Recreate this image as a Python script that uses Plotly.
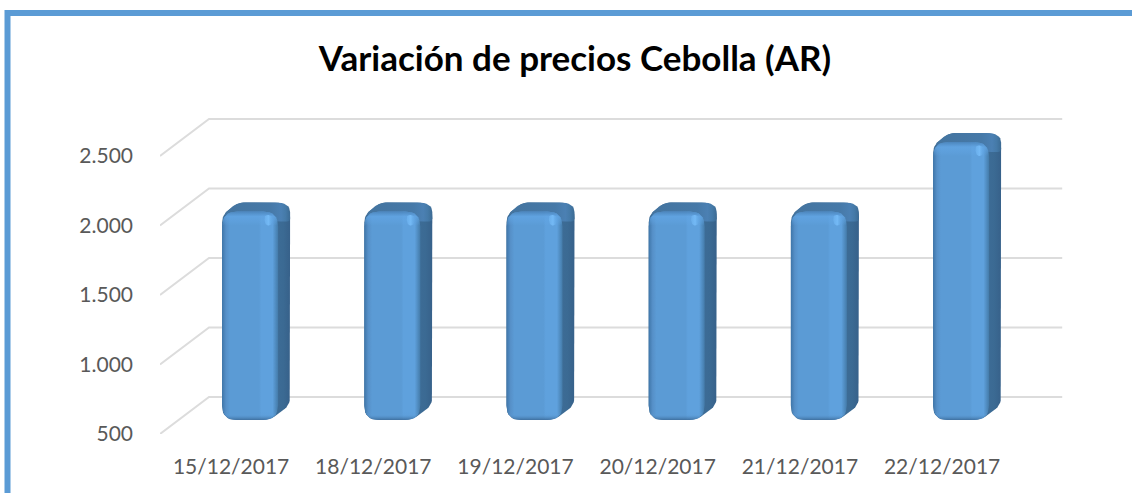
import plotly.graph_objects as go

categories = ["15/12/2017", "18/12/2017", "19/12/2017", "20/12/2017", "21/12/2017", "22/12/2017"]
values = [2000, 2000, 2000, 2000, 2000, 2500]
y_ticks = [500, 1000, 1500, 2000, 2500]
title = "Variación de precios Cebolla (AR)"

W, H = 1132, 493
X0_PX, Y0_PX = 160, 434      # front-left corner of the floor
CAT_PX = 142.2               # pixels per category
UNIT_PX = 69.5 / 500         # pixels per value unit
DEPTH_X = 49 / CAT_PX        # depth of the 3D box in x data units
DEPTH_Y = 37 / UNIT_PX       # depth of the 3D box in value units


def dx(p):
    return p / CAT_PX


def dy(p):
    return p / UNIT_PX


def rounded(points, radius, steps=8):
    """Round the corners of a polygon given in pixel-like offsets."""
    out = []
    n = len(points)
    for i in range(n):
        p, c, q = points[i - 1], points[i], points[(i + 1) % n]
        r = radius[i] if isinstance(radius, (list, tuple)) else radius
        def toward(a, b):
            d = ((a[0] - b[0]) ** 2 + (a[1] - b[1]) ** 2) ** 0.5
            t = min(r, d / 2) / d if d else 0
            return (b[0] + (a[0] - b[0]) * t, b[1] + (a[1] - b[1]) * t)
        a, b = toward(p, c), toward(q, c)
        for s in range(steps + 1):
            t = s / steps
            out.append(((1 - t) ** 2 * a[0] + 2 * t * (1 - t) * c[0] + t ** 2 * b[0],
                        (1 - t) ** 2 * a[1] + 2 * t * (1 - t) * c[1] + t ** 2 * b[1]))
    out.append(out[0])
    return out


fig = go.Figure()


def poly(cx, base, pts, gradient):
    """pts are (px right of bar centre, px above value `base`)."""
    fig.add_trace(go.Scatter(
        x=[cx + dx(p[0]) for p in pts],
        y=[base + dy(p[1]) for p in pts],
        mode="lines", fill="toself", line=dict(width=0),
        fillgradient=gradient, hoverinfo="skip", showlegend=False,
    ))


# wall grid lines and the diagonal floor/side lines
for v in y_ticks:
    fig.add_trace(go.Scatter(
        x=[-0.5, -0.5 + DEPTH_X, 5.5 + DEPTH_X],
        y=[v, v + DEPTH_Y, v + DEPTH_Y],
        mode="lines", line=dict(color="#dcdcdc", width=2),
        hoverinfo="skip", showlegend=False,
    ))

# 3D bars
for i, v in enumerate(values):
    cx = i + dx(19)
    floor = y_ticks[0] + dy(14)
    top = v + dy(14)
    h = (top - floor) * UNIT_PX
    L, R = -28, 28

    # side silhouette
    poly(cx, floor, rounded([(L, h - 4), (L + 15, h + 9), (R + 12, h + 9), (R + 12, 15),
                             (R - 8, 0), (L, 0)], [7, 8, 15, 8, 8, 14]),
         dict(type="horizontal",
              colorscale=[[0, "#3d6c96"], [0.8, "#3d6c96"], [0.9, "#3b6a93"], [1, "#37618a"]]))
    # top face
    poly(cx, floor, rounded([(L, h - 4), (L + 15, h + 9), (R + 12, h + 9), (R + 12, h - 10),
                             (R, h - 10)], [7, 8, 15, 3, 3]),
         dict(type="horizontal",
              colorscale=[[0, "#44749f"], [0.7, "#4679a8"], [0.86, "#4b80b3"], [0.93, "#457aa8"], [1, "#3c6b94"]]))
    # front face
    front = rounded([(L, h), (R, h), (R, 0), (L, 0)], [15, 15, 15, 15])
    poly(cx, floor, front,
         dict(type="horizontal",
              colorscale=[[0, "#3f76a9"], [0.07, "#5690c8"], [0.14, "#5b9bd5"], [0.66, "#5b9bd5"],
                          [0.70, "#5fa1dd"], [0.9, "#5fa1dd"], [1, "#447ba9"]]))
    # bevel light at the top, shadow at the bottom
    poly(cx, floor, front,
         dict(type="vertical",
              colorscale=[[0, "rgba(50,92,135,0.7)"], [5 / h, "rgba(91,155,213,0.25)"],
                          [9 / h, "rgba(91,155,213,0)"], [(h - 14) / h, "rgba(100,170,235,0)"],
                          [(h - 5) / h, "rgba(98,165,228,0.7)"], [1, "rgba(72,128,182,0.8)"]]))
    # glint at the upper right corner
    poly(cx, floor, rounded([(R - 14, h - 3), (R - 5, h - 4), (R - 6, h - 14), (R - 13, h - 14)], 5),
         dict(type="horizontal", colorscale=[[0, "rgba(115,185,245,0.5)"], [0.5, "rgba(118,188,248,0.9)"],
                                              [1, "rgba(100,170,230,0.2)"]]))

# outer frame of the chart
fig.add_shape(type="rect", xref="paper", yref="paper",
              x0=7.5 / W, x1=1.02, y0=-0.1, y1=1 - 13 / H,
              line=dict(color="#5b9bd5", width=6), layer="below")

fig.update_layout(
    width=W, height=H,
    margin=dict(l=0, r=0, t=0, b=0, autoexpand=False),
    paper_bgcolor="white", plot_bgcolor="rgba(0,0,0,0)",
    separators=",.",
    showlegend=False,
    title=dict(text=title, x=575 / W, xanchor="center", y=1 - 59 / H, yanchor="middle",
               font=dict(family="Lato", size=35, color="black", weight="bold")),
    xaxis=dict(
        domain=[X0_PX / W, 1],
        range=[-0.5, -0.5 + (W - X0_PX) / CAT_PX],
        tickvals=list(range(len(categories))), ticktext=categories,
        showgrid=False, zeroline=False, showline=False, ticks="",
        ticklabelstandoff=18, automargin=False,
        tickfont=dict(family="Lato", size=21, color="#595959"),
    ),
    yaxis=dict(
        domain=[(H - Y0_PX) / H, 1],
        range=[y_ticks[0], y_ticks[0] + Y0_PX / UNIT_PX],
        tickvals=y_ticks, tickformat=",d",
        showgrid=False, zeroline=False, showline=False, ticks="",
        ticklabelstandoff=26, automargin=False,
        tickfont=dict(family="Lato", size=21, color="#595959"),
    ),
)

fig.write_html("out.html", config={"displayModeBar": False},
               post_script="document.body.style.margin='0';document.body.style.overflow='hidden';")
